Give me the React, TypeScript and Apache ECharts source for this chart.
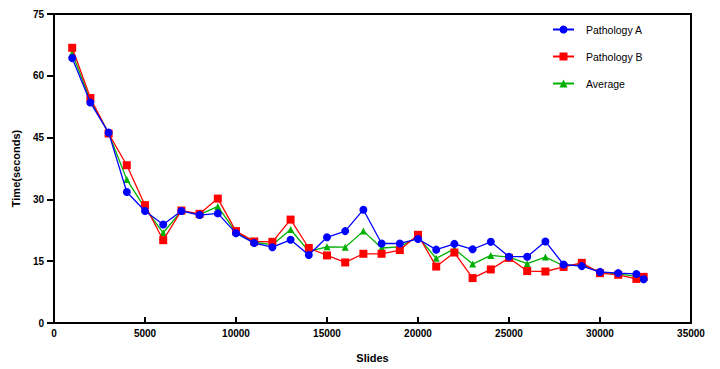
import React, { useEffect, useRef } from "react";
import * as echarts from "echarts";

const slides = [1000, 2000, 3000, 4000, 5000, 6000, 7000, 8000, 9000, 10000, 11000, 12000, 13000, 14000, 15000, 16000, 17000, 18000, 19000, 20000, 21000, 22000, 23000, 24000, 25000, 26000, 27000, 28000, 29000, 30000, 31000, 32000, 32400];

const pathologyA = [64.3, 53.5, 46.2, 31.8, 27.2, 23.9, 27.2, 26.2, 26.6, 21.8, 19.4, 18.4, 20.2, 16.5, 20.8, 22.3, 27.5, 19.3, 19.3, 20.4, 17.8, 19.2, 17.9, 19.7, 16.1, 16.1, 19.8, 14.2, 13.8, 12.4, 12.1, 11.9, 10.6];

const pathologyB = [66.8, 54.6, 46.0, 38.3, 28.6, 20.1, 27.3, 26.5, 30.2, 22.3, 19.8, 19.7, 25.1, 18.2, 16.4, 14.7, 16.8, 16.8, 17.7, 21.4, 13.7, 17.1, 10.9, 13.0, 15.8, 12.6, 12.5, 13.6, 14.6, 12.1, 11.7, 10.7, 11.2];

const average = [65.5, 54.0, 46.1, 34.8, 27.9, 21.9, 27.2, 26.3, 28.3, 22.0, 19.6, 19.0, 22.7, 17.4, 18.5, 18.4, 22.3, 18.2, 18.5, 20.9, 15.7, 18.0, 14.3, 16.4, 16.0, 14.4, 16.0, 13.9, 14.2, 12.3, 11.9, 11.3, 10.9];

const seriesNames = ["Pathology A", "Pathology B", "Average"];

const FONT = "'Liberation Sans', Arial, Helvetica, sans-serif";

export default function App() {
  const ref = useRef<HTMLDivElement>(null);

  useEffect(() => {
    if (!ref.current) return;
    const chart = echarts.init(ref.current, null, { renderer: "svg" });
    const pairs = (ys: number[]) => slides.map((x, i) => [x, ys[i]]);

    chart.setOption({
      animation: false,
      backgroundColor: "#ffffff",
      textStyle: { fontFamily: FONT },
      grid: {
        left: 54,
        right: 29,
        top: 14,
        bottom: 46,
        show: true,
        borderColor: "#000",
        borderWidth: 2,
      },
      legend: {
        orient: "vertical",
        left: 547,
        top: 19,
        itemWidth: 21,
        itemHeight: 10,
        itemGap: 16,
        textStyle: { fontFamily: FONT, fontSize: 10.5, color: "#000", padding: [0, 0, 0, 7] },
        data: seriesNames,
      },
      xAxis: {
        type: "value",
        min: 0,
        max: 35000,
        interval: 5000,
        name: "Slides",
        nameLocation: "middle",
        nameGap: 29,
        nameTextStyle: { fontFamily: FONT, fontSize: 11, fontWeight: "bold", color: "#000" },
        splitLine: { show: false },
        axisLine: { show: true, lineStyle: { color: "#000", width: 2 } },
        axisTick: { show: true, inside: true, length: 6, lineStyle: { color: "#000", width: 2 } },
        axisLabel: {
          fontFamily: FONT,
          fontSize: 10,
          fontWeight: "bold",
          color: "#000",
          margin: 5,
          formatter: (v: number) => String(v),
        },
      },
      yAxis: {
        type: "value",
        min: 0,
        max: 75,
        interval: 15,
        name: "Time(seconds)",
        nameLocation: "middle",
        nameGap: 33,
        nameTextStyle: { fontFamily: FONT, fontSize: 11, fontWeight: "bold", color: "#000" },
        splitLine: { show: false },
        axisLine: { show: true, lineStyle: { color: "#000", width: 2 } },
        axisTick: { show: true, inside: false, length: 7, lineStyle: { color: "#000", width: 2 } },
        axisLabel: { fontFamily: FONT, fontSize: 10, fontWeight: "bold", color: "#000", margin: 10 },
      },
      series: [
        {
          name: seriesNames[0],
          type: "line",
          data: pairs(pathologyA),
          symbol: "circle",
          symbolSize: 8,
          z: 4,
          itemStyle: { color: "#0000ff" },
          lineStyle: { color: "#0000ff", width: 1.3 },
        },
        {
          name: seriesNames[1],
          type: "line",
          data: pairs(pathologyB),
          symbol: "rect",
          symbolSize: 8,
          z: 3,
          itemStyle: { color: "#ff0000" },
          lineStyle: { color: "#ff0000", width: 1.3 },
        },
        {
          name: seriesNames[2],
          type: "line",
          data: pairs(average),
          symbol: "triangle",
          symbolSize: 7,
          z: 2,
          itemStyle: { color: "#00b000" },
          lineStyle: { color: "#00b000", width: 1.3 },
        },
      ],
    });

    return () => chart.dispose();
  }, []);

  return (
    <div
      ref={ref}
      style={{ position: "fixed", left: 0, top: 0, width: 720, height: 369, background: "#fff" }}
    />
  );
}
